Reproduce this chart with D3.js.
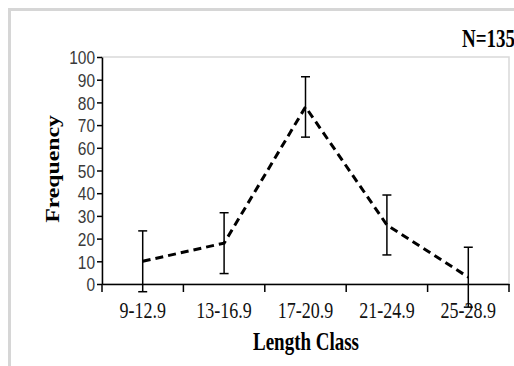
<!DOCTYPE html>
<html>
<head>
<meta charset="utf-8">
<script src="https://cdn.jsdelivr.net/npm/d3@7"></script>
<style>
  body { margin: 0; background: #fff; }
  svg { display: block; }
</style>
</head>
<body>
<div id="chart"></div>
<script>
var svgWidth = 514;
var svgHeight = 366;

// data
var lengthClasses = ["9-12.9", "13-16.9", "17-20.9", "21-24.9", "25-28.9"];
var frequency = [10, 18, 78, 26, 3];
var errorSize = [13.4, 13.4, 13.3, 13.2, 13.2];
var yTicks = [0, 10, 20, 30, 40, 50, 60, 70, 80, 90, 100];

var plot = { left: 102, top: 57, right: 509, bottom: 284 };
var stretch = 1.3; // text in the original looks squeezed horizontally

var svg = d3.select("#chart")
  .append("svg")
  .attr("width", svgWidth)
  .attr("height", svgHeight);

// outer frame
svg.append("path")
  .attr("d", "M9.5," + svgHeight + "V9.5H" + svgWidth)
  .attr("fill", "none")
  .attr("stroke", "#d6d6d6")
  .attr("stroke-width", 3);

// plot area box
svg.append("rect")
  .attr("x", plot.left)
  .attr("y", plot.top)
  .attr("width", plot.right - plot.left)
  .attr("height", plot.bottom - plot.top)
  .attr("fill", "none")
  .attr("stroke", "#d9d9d9")
  .attr("stroke-width", 1.5);

var x = d3.scaleBand()
  .domain(lengthClasses)
  .range([plot.left, plot.right]);

var y = d3.scaleLinear()
  .domain([0, 100])
  .range([plot.bottom, plot.top]);

// y axis
var yAxis = svg.append("g")
  .attr("transform", `translate(${plot.left},0)`)
  .call(d3.axisLeft(y).tickValues(yTicks).tickSize(5).tickSizeOuter(0).tickFormat(d3.format("d")));
yAxis.select(".domain").attr("stroke", "#000").attr("stroke-width", 1.5);
yAxis.selectAll(".tick line").attr("stroke", "#000").attr("stroke-width", 1.5);
yAxis.selectAll(".tick text").remove();
yAxis.selectAll(".tick").append("text")
  .attr("transform", `translate(-7,0) scale(1,1.2)`)
  .attr("dy", "0.36em")
  .attr("text-anchor", "end")
  .attr("fill", "#3a3a3a")
  .style("font-family", "'Liberation Sans', Arial, sans-serif")
  .style("font-size", "15.5px")
  .text(d => d);

// x axis
var xAxis = svg.append("g")
  .attr("transform", `translate(0,${plot.bottom})`)
  .call(d3.axisBottom(x).tickSize(0).tickSizeOuter(0));
xAxis.select(".domain").attr("stroke", "#000").attr("stroke-width", 1.5);
xAxis.selectAll(".tick text").remove();
xAxis.selectAll(".tick").append("text")
  .attr("transform", `translate(0,34) scale(1,${stretch})`)
  .attr("text-anchor", "middle")
  .attr("fill", "#111")
  .style("font-family", "'Liberation Serif', 'Times New Roman', serif")
  .style("font-size", "18px")
  .text(d => d);

// category boundary ticks
var bounds = lengthClasses.map(d => x(d)).concat([x(lengthClasses[lengthClasses.length - 1]) + x.bandwidth()]);
svg.append("g").selectAll("line")
  .data(bounds)
  .enter()
  .append("line")
  .attr("x1", d => d)
  .attr("x2", d => d)
  .attr("y1", plot.bottom)
  .attr("y2", plot.bottom + 8)
  .attr("stroke", "#000")
  .attr("stroke-width", 1.5);

var cx = d => x(d) + x.bandwidth() / 2;

// dashed line
var line = d3.line()
  .x((d, i) => cx(lengthClasses[i]))
  .y(d => y(d));

svg.append("path")
  .datum(frequency)
  .attr("d", line)
  .attr("fill", "none")
  .attr("stroke", "#000")
  .attr("stroke-width", 3)
  .attr("stroke-dasharray", "8,5");

// error bars
var errGroup = svg.append("g")
  .attr("stroke", "#000")
  .attr("stroke-width", 1.5);

frequency.forEach(function(v, i) {
  var px = cx(lengthClasses[i]);
  var top = y(v + errorSize[i]);
  var bot = y(v - errorSize[i]);
  errGroup.append("line").attr("x1", px).attr("x2", px).attr("y1", top).attr("y2", bot);
  errGroup.append("line").attr("x1", px - 4.5).attr("x2", px + 4.5).attr("y1", top).attr("y2", top);
  errGroup.append("line").attr("x1", px - 4.5).attr("x2", px + 4.5).attr("y1", bot).attr("y2", bot);
});

// axis titles
svg.append("text")
  .attr("transform", `translate(306,350) scale(1,${stretch})`)
  .attr("text-anchor", "middle")
  .style("font-family", "'Liberation Serif', 'Times New Roman', serif")
  .style("font-size", "19px")
  .style("font-weight", "bold")
  .text("Length Class");

svg.append("text")
  .attr("transform", `translate(59,169) scale(1,1.25) rotate(-90)`)
  .attr("text-anchor", "middle")
  .style("font-family", "'Liberation Serif', 'Times New Roman', serif")
  .style("font-size", "19px")
  .style("font-weight", "bold")
  .text("Frequency");

svg.append("text")
  .attr("transform", `translate(462,47) scale(1,${stretch})`)
  .style("font-family", "'Liberation Serif', 'Times New Roman', serif")
  .style("font-size", "19px")
  .style("font-weight", "bold")
  .text("N=135");
</script>
</body>
</html>
